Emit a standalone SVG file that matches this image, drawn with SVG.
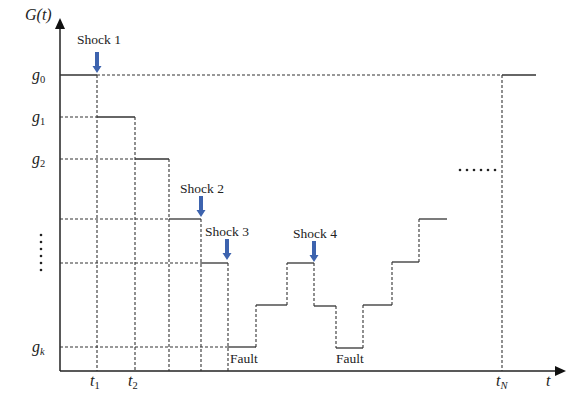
<svg xmlns="http://www.w3.org/2000/svg" width="588" height="396" viewBox="0 0 588 396">
<style>
.ax{stroke:#222;stroke-width:1.5;fill:none}
.st{stroke:#333;stroke-width:1.3;fill:none}
.da{stroke:#333;stroke-width:1.1;fill:none;stroke-dasharray:3 2}
.lbl{font-family:"Liberation Serif","Times New Roman",serif;font-size:13.5px;fill:#222}
.math{font-family:"Liberation Serif","Times New Roman",serif;font-style:italic;font-size:16px;fill:#222}
.sub{font-size:10.5px;font-style:normal}
.subi{font-size:10.5px}
.shock{fill:#3d63ae}
.dot{fill:#222}
</style>
<defs>
<path id="shk" class="shock" d="M-2,0 H2 V14 H4.5 L0,21 L-4.5,14 H-2 Z"/>
</defs>
<rect width="588" height="396" fill="#fff"/>
<g id="axes">
<line class="ax" x1="60" y1="371" x2="60" y2="26"/>
<line class="ax" x1="60" y1="371" x2="557" y2="371"/>
<polygon points="60,18 55,29 65,29" fill="#111"/>
<polygon points="566,371 555,366 555,376" fill="#111"/>
</g>
<g id="connectors">
<line class="da" x1="97" y1="75" x2="502" y2="75"/>
<line class="da" x1="60" y1="117" x2="97" y2="117"/>
<line class="da" x1="60" y1="159" x2="135" y2="159"/>
<line class="da" x1="60" y1="219" x2="169" y2="219"/>
<line class="da" x1="60" y1="263" x2="201" y2="263"/>
<line class="da" x1="60" y1="347" x2="228" y2="347"/>
<line class="da" x1="97" y1="75" x2="97" y2="371"/>
<line class="da" x1="135" y1="117" x2="135" y2="371"/>
<line class="da" x1="169" y1="159" x2="169" y2="371"/>
<line class="da" x1="201" y1="219" x2="201" y2="371"/>
<line class="da" x1="228" y1="263" x2="228" y2="371"/>
<line class="da" x1="502" y1="75" x2="502" y2="371"/>
<line class="da" x1="256" y1="347" x2="256" y2="305"/>
<line class="da" x1="287" y1="305" x2="287" y2="263"/>
<line class="da" x1="314" y1="263" x2="314" y2="306"/>
<line class="da" x1="336" y1="306" x2="336" y2="348"/>
<line class="da" x1="363" y1="348" x2="363" y2="305"/>
<line class="da" x1="392" y1="305" x2="392" y2="262"/>
<line class="da" x1="419" y1="262" x2="419" y2="219"/>
<line class="st" x1="60" y1="75" x2="97" y2="75"/>
<line class="st" x1="97" y1="117" x2="135" y2="117"/>
<line class="st" x1="135" y1="159" x2="169" y2="159"/>
<line class="st" x1="169" y1="219" x2="201" y2="219"/>
<line class="st" x1="201" y1="263" x2="228" y2="263"/>
<line class="st" x1="228" y1="347" x2="256" y2="347"/>
<line class="st" x1="256" y1="305" x2="287" y2="305"/>
<line class="st" x1="287" y1="263" x2="314" y2="263"/>
<line class="st" x1="314" y1="306" x2="336" y2="306"/>
<line class="st" x1="336" y1="348" x2="363" y2="348"/>
<line class="st" x1="363" y1="305" x2="392" y2="305"/>
<line class="st" x1="392" y1="262" x2="419" y2="262"/>
<line class="st" x1="419" y1="219" x2="447" y2="219"/>
<line class="st" x1="502" y1="75" x2="536" y2="75"/>
</g>
<g id="shock1"><text class="lbl" x="77" y="44">Shock 1</text><use href="#shk" x="97" y="52"/></g>
<g id="shock2"><text class="lbl" x="180" y="193">Shock 2</text><use href="#shk" x="201" y="196"/></g>
<g id="shock3"><text class="lbl" x="205" y="236">Shock 3</text><use href="#shk" x="227" y="239"/></g>
<g id="shock4"><text class="lbl" x="293" y="238">Shock 4</text><use href="#shk" x="314" y="241"/></g>
<g id="fault1"><text class="lbl" x="230" y="363">Fault</text></g>
<g id="fault2"><text class="lbl" x="336" y="363">Fault</text></g>
<g id="labels">
<text class="math" x="25" y="20">G(t)</text>
<text class="math" x="32" y="80">g<tspan class="sub" dy="3">0</tspan></text>
<text class="math" x="32" y="122">g<tspan class="sub" dy="3">1</tspan></text>
<text class="math" x="32" y="164">g<tspan class="sub" dy="3">2</tspan></text>
<text class="math" x="32" y="352">g<tspan class="subi" dy="3">k</tspan></text>
<text class="math" x="90" y="386">t<tspan class="sub" dy="3">1</tspan></text>
<text class="math" x="128" y="386">t<tspan class="sub" dy="3">2</tspan></text>
<text class="math" x="496" y="386">t<tspan class="subi" dy="3">N</tspan></text>
<text class="math" x="546" y="386">t</text>
</g>
<g id="ellipsis-v">
<circle class="dot" cx="41" cy="235" r="1.3"/>
<circle class="dot" cx="41" cy="242" r="1.3"/>
<circle class="dot" cx="41" cy="249" r="1.3"/>
<circle class="dot" cx="41" cy="256" r="1.3"/>
<circle class="dot" cx="41" cy="263" r="1.3"/>
<circle class="dot" cx="41" cy="270" r="1.3"/>
</g>
<g id="ellipsis-h">
<circle class="dot" cx="460" cy="170" r="1.3"/>
<circle class="dot" cx="467" cy="170" r="1.3"/>
<circle class="dot" cx="474" cy="170" r="1.3"/>
<circle class="dot" cx="481" cy="170" r="1.3"/>
<circle class="dot" cx="488" cy="170" r="1.3"/>
<circle class="dot" cx="495" cy="170" r="1.3"/>
</g>
</svg>
